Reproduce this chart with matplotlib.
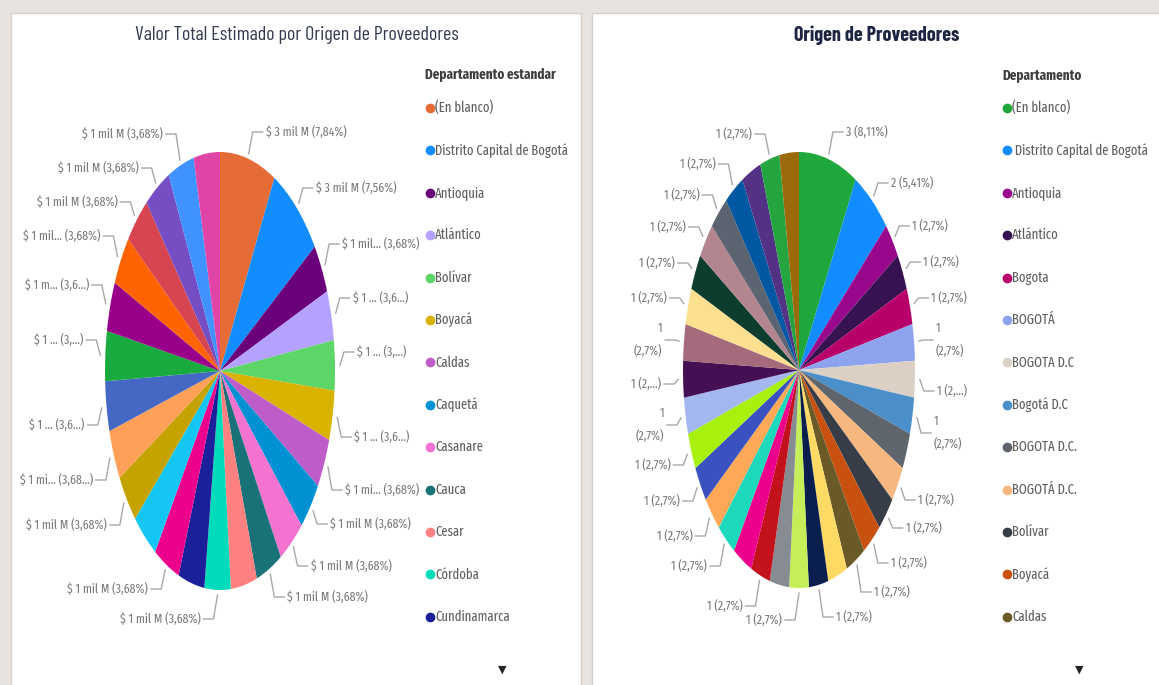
import numpy as np
import matplotlib
matplotlib.use("Agg")
import matplotlib.pyplot as plt
from matplotlib import font_manager
from matplotlib.patches import Rectangle
from matplotlib.lines import Line2D

W, H = 1159, 685

# ---------------- data ----------------
left_title = "Valor Total Estimado por Origen de Proveedores"
left_legend_title = "Departamento estandar"
left_categories = ["(En blanco)", "Distrito Capital de Bogotá", "Antioquia", "Atlántico",
                   "Bolívar", "Boyacá", "Caldas", "Caquetá", "Casanare", "Cauca", "Cesar",
                   "Córdoba", "Cundinamarca", "Huila", "La Guajira", "Magdalena", "Meta",
                   "Nariño", "Norte de Santander", "Quindío", "Risaralda", "Santander",
                   "Sucre", "Tolima", "Valle del Cauca"]
left_share = [7.84, 7.56, 3.68, 3.68, 3.68, 3.68, 3.68, 3.68, 3.68, 3.68, 3.68, 3.68, 3.68,
              3.68, 3.68, 3.68, 3.68, 3.68, 3.68, 3.68, 3.68, 3.68, 3.68, 3.68, 3.68]
left_labels = ["$ 3 mil M (7,84%)", "$ 3 mil M (7,56%)", "$ 1 mil... (3,68%)", "$ 1 ... (3,6...)",
               "$ 1 ... (3,...)", "$ 1 ... (3,6...)", "$ 1 mi... (3,68%)", "$ 1 mil M (3,68%)",
               "$ 1 mil M (3,68%)", "$ 1 mil M (3,68%)", "", "$ 1 mil M (3,68%)", "",
               "$ 1 mil M (3,68%)", "", "$ 1 mil M (3,68%)", "$ 1 mi... (3,68...)",
               "$ 1 ... (3,6...)", "$ 1 ... (3,...)", "$ 1 m... (3,6...)", "$ 1 mil... (3,68%)",
               "$ 1 mil M (3,68%)", "$ 1 mil M (3,68%)", "$ 1 mil M (3,68%)", ""]
left_colors = ["#E66C37", "#118DFF", "#6B007B", "#B5A1FF", "#5BD667", "#D9B300", "#BE5DC9",
               "#0091D5", "#F472D0", "#197278", "#FF8080", "#00DBBC", "#1B1F9A", "#EC008C",
               "#15C6F4", "#C4A200", "#FFA058", "#4668C5", "#1AAB40", "#99008A", "#FF6300",
               "#D64550", "#744EC2", "#4092FF", "#E044A7"]

right_title = "Origen de Proveedores"
right_legend_title = "Departamento"
right_categories = ["(En blanco)", " Distrito Capital de Bogotá", "Antioquia", "Atlántico",
                    "Bogota", "BOGOTÁ", "BOGOTA D.C", "Bogotá D.C", "BOGOTA D.C.", "BOGOTÁ D.C.",
                    "Bolívar", "Boyacá", "Caldas", "Caquetá", "Casanare", "Cauca", "Cesar",
                    "Chocó", "Córdoba", "Cundinamarca", "Huila", "La Guajira", "Magdalena",
                    "Meta", "Nariño", "Norte de Santander", "Putumayo", "Quindío", "Risaralda",
                    "Santander", "Sucre", "Tolima", "Valle", "Valle del Cauca"]
right_counts = [3, 2, 1, 1, 1, 1, 1, 1, 1, 1, 1, 1, 1, 1, 1, 1, 1,
                1, 1, 1, 1, 1, 1, 1, 1, 1, 1, 1, 1, 1, 1, 1, 1, 1]
right_labels = ["3 (8,11%)", "2 (5,41%)", "1 (2,7%)", "1 (2,7%)", "1 (2,7%)", "1\n(2,7%)",
                "1 (2,...)", "1\n(2,7%)", "", "1 (2,7%)", "1 (2,7%)", "1 (2,7%)", "1 (2,7%)",
                "", "1 (2,7%)", "1 (2,7%)", "", "1 (2,7%)", "", "1 (2,7%)", "1 (2,7%)",
                "1 (2,7%)", "1 (2,7%)", "1\n(2,7%)", "1 (2,...)", "1\n(2,7%)", "1 (2,7%)",
                "1 (2,7%)", "1 (2,7%)", "1 (2,7%)", "1 (2,7%)", "", "1 (2,7%)", ""]
right_colors = ["#1FA83E", "#118DFF", "#99078C", "#361350", "#B8006A", "#8DA3EE", "#DCD0C4",
                "#4A8FC9", "#5E656D", "#F6B87E", "#363D48", "#C9510F", "#6A5A28", "#FDDA64",
                "#0A1F4E", "#C6EE58", "#878C92", "#C3121C", "#EC008C", "#1DD9BB", "#FFA858",
                "#3A52BF", "#A8F00E", "#A5B7F0", "#450F54", "#A56B7D", "#FCE08F", "#0C3D2F",
                "#B3868F", "#5B6470", "#0057A2", "#533285", "#25A540", "#9B6A0A"]

legend_shown = 13

# ---------------- layout (pixels, y from top) ----------------
left_pie = dict(cx=220, cy=371, rx=115, ry=219)
right_pie = dict(cx=799, cy=370, rx=116, ry=218)
left_label_y = [132, 188, 244, 298, 352, 437, 490, 524, 566, 597, None, 619, None,
                589, None, 525, 480, 425, 340, 285, 236, 202, 168, 134, None]
right_label_y = [132, 183, 226, 262, 298, 340, 391, 433, None, 500, 528, 563, 592,
                 None, 617, 620, None, 606, None, 566, 536, 501, 465, 425, 384, 340,
                 298, 263, 227, 195, 164, None, 134, None]

BG = "#E8E3DF"
LABEL_COL = "#7A7A7A"
LEADER_COL = "#A8A8A8"
LEGEND_COL = "#5F5E5C"

names = {f.name for f in font_manager.fontManager.ttflist}


def pick(*cands):
    for c in cands:
        if c in names:
            return [c, "DejaVu Sans"]
    return ["DejaVu Sans"]


FONT = pick("Fira Sans Extra Condensed", "Roboto Condensed", "Liberation Sans")
TFONT = pick("Barlow Condensed", "Roboto Condensed", "Liberation Sans")

fig = plt.figure(figsize=(W / 100, H / 100), dpi=100, facecolor=BG)
renderer = fig.canvas.get_renderer()


def fx(x):
    return x / W


def fy(y):
    return 1 - y / H


def fit_size(text, target_w, family, weight="normal"):
    t = fig.text(0, 0, text, fontsize=10, family=family, weight=weight)
    w = t.get_window_extent(renderer).width
    t.remove()
    return 10 * target_w / w


# cards
for x0, x1 in [(11, 581), (592, 1170)]:
    fig.add_artist(Rectangle((fx(x0), fy(700)), fx(x1 - x0), (700 - 13) / H,
                             transform=fig.transFigure, facecolor="white",
                             edgecolor="#D5D0CC", linewidth=1.0, zorder=0))

title_size_l = fit_size(left_title, 325, TFONT)
title_size_r = fit_size(right_title, 165, TFONT, "bold")
label_size = fit_size("$ 1 mil M (3,68%)", 81, FONT)
legend_size = fit_size("Distrito Capital de Bogotá", 134, FONT)
legend_title_size = fit_size(left_legend_title, 131, FONT, "bold")

fig.text(fx(297), fy(35), left_title, ha="center", va="center", fontsize=title_size_l,
         family=TFONT, color="#333A52")
fig.text(fx(877), fy(35), right_title, ha="center", va="center", fontsize=title_size_r,
         family=TFONT, weight="bold", color="#1C2541")


def draw_pie(geom, values, colors, labels, label_y):
    cx, cy, rx, ry = geom["cx"], geom["cy"], geom["rx"], geom["ry"]
    ax = fig.add_axes([fx(cx - rx), fy(cy + ry), 2 * rx / W, 2 * ry / H])
    wedges, _ = ax.pie(values, colors=colors, startangle=90, counterclock=False,
                       radius=1, wedgeprops=dict(linewidth=0))
    ax.set_aspect("auto")
    ax.set_xlim(-1, 1)
    ax.set_ylim(-1, 1)
    ax.axis("off")
    ax.patch.set_alpha(0)
    cxd, cyd = ax.transData.transform((0, 0))
    for w, lab, ly in zip(wedges, labels, label_y):
        if not lab or ly is None:
            continue
        mid = np.deg2rad((w.theta1 + w.theta2) / 2)
        ex, ey = ax.transData.transform((np.cos(mid), np.sin(mid)))
        dx, dy = ex - cxd, ey - cyd
        n = np.hypot(dx, dy)
        sx, sy = ex + dx / n * 5, ey + dy / n * 5
        side = 1 if np.cos(mid) > 1e-6 else -1
        lyd = H - ly
        elx = sx + side * 4
        hx = elx + side * 10
        fig.add_artist(Line2D([sx / W, elx / W, hx / W], [sy / H, lyd / H, lyd / H],
                              transform=fig.transFigure, color=LEADER_COL, lw=1.0))
        ha = "left" if side > 0 else "right"
        fig.text((hx + side * 3) / W, lyd / H, lab, ha=ha, va="center", multialignment=ha,
                 fontsize=label_size, family=FONT, color=LABEL_COL, linespacing=2.0)
    return ax


draw_pie(left_pie, left_share, left_colors, left_labels, left_label_y)
draw_pie(right_pie, right_counts, right_colors, right_labels, right_label_y)


def draw_legend(title, x_title, x_marker, cats, colors):
    fig.text(fx(x_title), fy(75), title, ha="left", va="center", fontsize=legend_title_size,
             family=FONT, weight="bold", color="#3E3E3E")
    for k in range(legend_shown):
        y = 108 + 42.4 * k
        fig.add_artist(Line2D([fx(x_marker)], [fy(y)], marker="o", markersize=6.0,
                              markerfacecolor=colors[k], markeredgecolor=colors[k],
                              linestyle="none", transform=fig.transFigure))
        fig.text(fx(x_marker + 5), fy(y), cats[k], ha="left", va="center",
                 fontsize=legend_size, family=FONT, color=LEGEND_COL)


draw_legend(left_legend_title, 425, 430, left_categories, left_colors)
draw_legend(right_legend_title, 1002, 1007, right_categories, right_colors)

for x in (502, 1079):
    fig.text(fx(x), fy(670), "▼", ha="center", va="center", fontsize=8,
             family=["DejaVu Sans"], color="#252423")

fig.savefig("out.png", dpi=100, facecolor=BG)
